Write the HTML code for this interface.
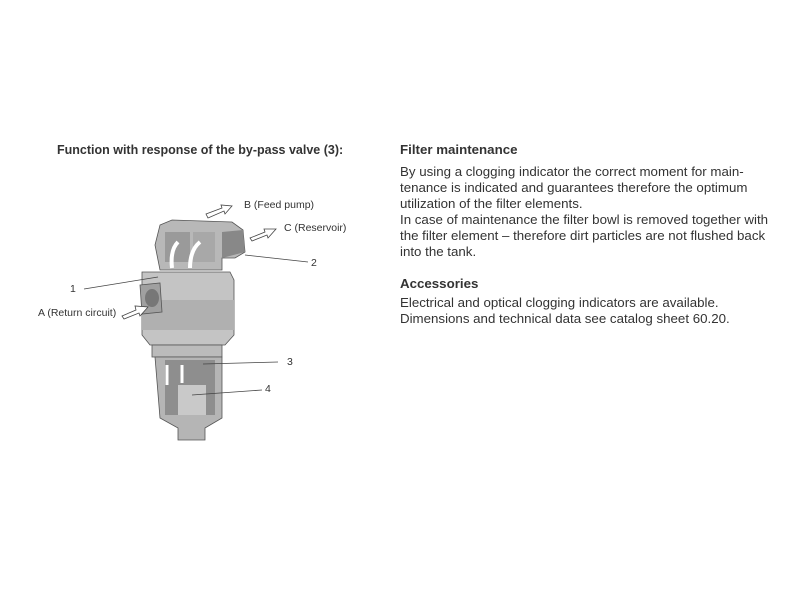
<!DOCTYPE html>
<html><head><style>
body{margin:0;width:800px;height:600px;background:#fff;font-family:"Liberation Sans",sans-serif;color:#333;position:relative;overflow:hidden}
.t{position:absolute;white-space:nowrap}
.h{font-weight:bold;font-size:13px}
.p{font-size:13.3px;line-height:16px}
.l{font-size:10.5px;color:#333}
</style></head><body>
<div class="t h" style="left:57px;top:143px;font-size:12.5px">Function with response of the by-pass valve (3):</div>
<div class="t h" style="left:400px;top:142px;font-size:13.3px">Filter maintenance</div>
<div class="t p" style="left:400px;top:164px">By using a clogging indicator the correct moment for main-<br>tenance is indicated and guarantees therefore the optimum<br>utilization of the filter elements.<br>In case of maintenance the filter bowl is removed together with<br>the filter element – therefore dirt particles are not flushed back<br>into the tank.</div>
<div class="t h" style="left:400px;top:276px;font-size:13.3px">Accessories</div>
<div class="t p" style="left:400px;top:295px">Electrical and optical clogging indicators are available.<br>Dimensions and technical data see catalog sheet 60.20.</div>

<svg width="800" height="600" style="position:absolute;left:0;top:0">
<path d="M160,225 L172,220 L232,222 L243,230 L245,252 L235,258 L222,258 L222,270 L160,270 L155,245 Z" fill="#b8b8b8" stroke="#555" stroke-width="0.8"/>
<path d="M222,232 L243,230 L245,252 L222,258 Z" fill="#888"/>
<rect x="165" y="232" width="25" height="30" fill="#9a9a9a"/>
<rect x="193" y="232" width="22" height="30" fill="#a8a8a8"/>
<path d="M142,272 L230,272 L234,280 L234,335 L225,345 L150,345 L142,335 Z" fill="#c4c4c4" stroke="#555" stroke-width="0.8"/>
<rect x="142" y="300" width="92" height="30" fill="#b0b0b0"/>
<path d="M140,285 L160,283 L162,312 L142,314 Z" fill="#a0a0a0" stroke="#555" stroke-width="0.8"/>
<ellipse cx="152" cy="298" rx="7" ry="9" fill="#777"/>
<rect x="152" y="345" width="70" height="12" fill="#bbb" stroke="#555" stroke-width="0.8"/>
<path d="M155,357 L222,357 L222,418 L205,428 L205,440 L178,440 L178,428 L160,418 Z" fill="#b5b5b5" stroke="#555" stroke-width="0.8"/>
<rect x="165" y="360" width="50" height="55" fill="#8e8e8e"/>
<rect x="178" y="385" width="28" height="30" fill="#c9c9c9"/>
<path d="M172,268 Q170,250 178,242" stroke="#fff" stroke-width="4" fill="none"/>
<path d="M190,268 Q190,250 200,242" stroke="#fff" stroke-width="4" fill="none"/>
<path d="M167,365 L167,385" stroke="#fff" stroke-width="3"/>
<path d="M182,383 L182,365" stroke="#fff" stroke-width="3"/>
<g fill="#fff" stroke="#444" stroke-width="0.8">
<path d="M206,214 L222,208 L221,205 L232,206 L225,214 L224,211 L208,218 Z"/>
<path d="M250,238 L265,232 L264,229 L276,229 L268,238 L267,235 L252,241 Z"/>
<path d="M122,316 L136,310 L135,306 L148,307 L140,316 L139,313 L124,319 Z"/>
</g>
<g stroke="#444" stroke-width="0.8">
<line x1="84" y1="289" x2="158" y2="277"/>
<line x1="245" y1="255" x2="308" y2="262"/>
<line x1="203" y1="364" x2="278" y2="362"/>
<line x1="192" y1="395" x2="262" y2="390"/>
</g>
</svg>
<div class="t l" style="left:244px;top:199px">B (Feed pump)</div>
<div class="t l" style="left:284px;top:222px">C (Reservoir)</div>
<div class="t l" style="left:70px;top:283px">1</div>
<div class="t l" style="left:311px;top:257px">2</div>
<div class="t l" style="left:287px;top:356px">3</div>
<div class="t l" style="left:265px;top:383px">4</div>
<div class="t l" style="left:38px;top:307px">A (Return circuit)</div>
</body></html>
